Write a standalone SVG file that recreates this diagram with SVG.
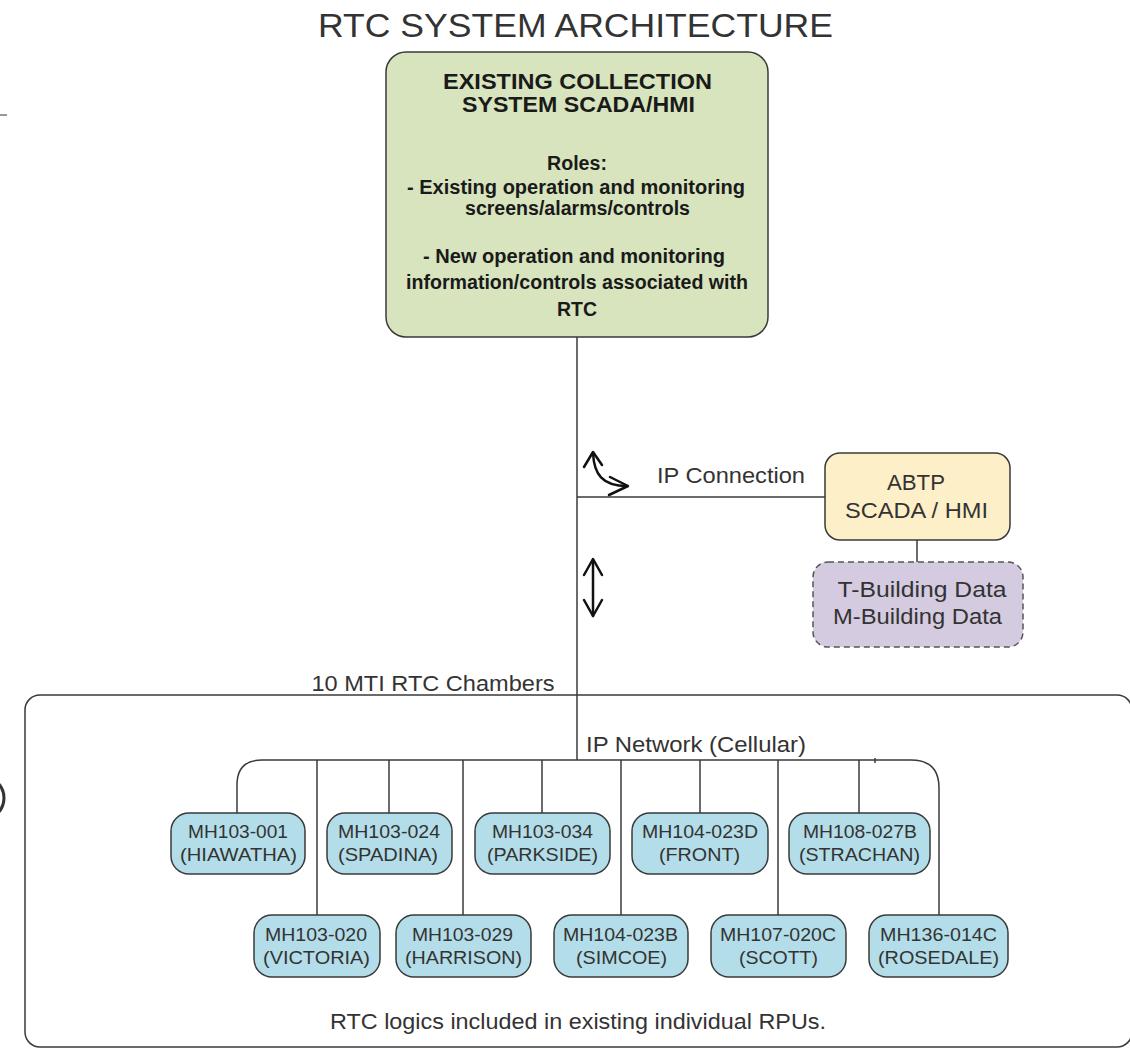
<svg xmlns="http://www.w3.org/2000/svg" width="1130" height="1050" viewBox="0 0 1130 1050">
  <style>
    text { font-family: "Liberation Sans", Arial, sans-serif; fill: #333; }
    .title { font-size: 34px; }
    .lbl { font-size: 22px; }
    .hd { font-size: 22px; font-weight: bold; fill: #1a1a1a; }
    .bd { font-size: 20px; font-weight: bold; fill: #1a1a1a; }
    .mh { font-size: 19px; }
    .wire { fill: none; stroke: #3a3a3a; stroke-width: 1.5; }
    .arr { fill: none; stroke: #111; stroke-width: 2.5; stroke-linecap: round; stroke-linejoin: round; }
    .rtu rect { fill: #b3dde8; stroke: #3a3a3a; stroke-width: 1.5; }
  </style>

  <!-- page title -->
  <text class="title" x="575.5" y="37" text-anchor="middle" textLength="515" lengthAdjust="spacingAndGlyphs">RTC SYSTEM ARCHITECTURE</text>

  <!-- stray edge marks -->
  <line x1="0" y1="115" x2="7" y2="115" stroke="#777" stroke-width="1.5"/>
  <ellipse cx="-14" cy="798" rx="18" ry="20" fill="none" stroke="#333" stroke-width="3"/>

  <!-- chamber container -->
  <g id="chambers">
    <rect x="25" y="695" width="1107" height="352" rx="15" fill="#fff" stroke="#3a3a3a" stroke-width="1.5"/>
    <text class="lbl" x="433" y="691" text-anchor="middle" textLength="243" lengthAdjust="spacingAndGlyphs">10 MTI RTC Chambers</text>
    <text class="lbl" x="578" y="1029" text-anchor="middle" textLength="496" lengthAdjust="spacingAndGlyphs">RTC logics included in existing individual RPUs.</text>
  </g>

  <!-- connectors -->
  <g id="connectors">
    <line class="wire" x1="577" y1="337" x2="577" y2="760"/>
    <line class="wire" x1="577" y1="497" x2="825" y2="497"/>
    <line class="wire" x1="917" y1="540" x2="917" y2="562"/>
    <path class="wire" d="M237,813 L237,785 Q237,760 262,760 L911,760 Q939,760 939,788 L939,915"/>
    <line class="wire" x1="317" y1="760" x2="317" y2="915"/>
    <line class="wire" x1="389" y1="760" x2="389" y2="813"/>
    <line class="wire" x1="463" y1="760" x2="463" y2="915"/>
    <line class="wire" x1="542" y1="760" x2="542" y2="813"/>
    <line class="wire" x1="621" y1="760" x2="621" y2="915"/>
    <line class="wire" x1="700" y1="760" x2="700" y2="813"/>
    <line class="wire" x1="778" y1="760" x2="778" y2="915"/>
    <line class="wire" x1="859" y1="760" x2="859" y2="813"/>
    <line class="wire" x1="875" y1="758" x2="875" y2="763"/>
    <!-- bent two-way arrow -->
    <path class="arr" d="M584,467 L593,452 L602,465"/>
    <path class="arr" d="M593,453 C594,474 602,486 627,486"/>
    <path class="arr" d="M610,477 L628,486 L609,495"/>
    <!-- vertical two-way arrow -->
    <path class="arr" d="M593,560 L593,616"/>
    <path class="arr" d="M584,575 L593,559 L602,575"/>
    <path class="arr" d="M584,600 L593,616 L602,600"/>
    <text class="lbl" x="731" y="483" text-anchor="middle" textLength="148" lengthAdjust="spacingAndGlyphs">IP Connection</text>
    <text class="lbl" x="696" y="752" text-anchor="middle" textLength="220" lengthAdjust="spacingAndGlyphs">IP Network (Cellular)</text>
  </g>

  <!-- collection system SCADA -->
  <g id="scada-main">
    <rect x="386" y="52" width="382" height="285" rx="20" fill="#d7e4bd" stroke="#3a3a3a" stroke-width="1.5"/>
    <text class="hd" x="577.5" y="89" text-anchor="middle" textLength="269" lengthAdjust="spacingAndGlyphs">EXISTING COLLECTION</text>
    <text class="hd" x="578.5" y="112" text-anchor="middle" textLength="233" lengthAdjust="spacingAndGlyphs">SYSTEM SCADA/HMI</text>
    <text class="bd" x="577" y="170" text-anchor="middle" textLength="60" lengthAdjust="spacingAndGlyphs">Roles:</text>
    <text class="bd" x="576" y="194" text-anchor="middle" textLength="338" lengthAdjust="spacingAndGlyphs">- Existing operation and monitoring</text>
    <text class="bd" x="577.5" y="215" text-anchor="middle" textLength="225" lengthAdjust="spacingAndGlyphs">screens/alarms/controls</text>
    <text class="bd" x="574" y="263" text-anchor="middle" textLength="302" lengthAdjust="spacingAndGlyphs">- New operation and monitoring</text>
    <text class="bd" x="577" y="289" text-anchor="middle" textLength="342" lengthAdjust="spacingAndGlyphs">information/controls associated with</text>
    <text class="bd" x="577" y="316" text-anchor="middle" textLength="40" lengthAdjust="spacingAndGlyphs">RTC</text>
  </g>

  <!-- ABTP SCADA -->
  <g id="abtp">
    <rect x="825" y="453" width="185" height="87" rx="15" fill="#fdefc8" stroke="#3a3a3a" stroke-width="1.5"/>
    <text class="lbl" x="916" y="490" text-anchor="middle" textLength="58" lengthAdjust="spacingAndGlyphs">ABTP</text>
    <text class="lbl" x="916.5" y="518" text-anchor="middle" textLength="143" lengthAdjust="spacingAndGlyphs">SCADA / HMI</text>
  </g>

  <!-- building data -->
  <g id="building-data">
    <rect x="813" y="562" width="210" height="85" rx="15" fill="#d5cbe0" stroke="#555" stroke-width="1.5" stroke-dasharray="6 4"/>
    <text class="lbl" x="922" y="597" text-anchor="middle" textLength="169" lengthAdjust="spacingAndGlyphs">T-Building Data</text>
    <text class="lbl" x="917.5" y="624" text-anchor="middle" textLength="169" lengthAdjust="spacingAndGlyphs">M-Building Data</text>
  </g>

  <!-- chamber RPUs, upper row -->
  <g id="mh103-001" class="rtu">
    <rect x="171" y="813" width="134" height="61" rx="18"/>
    <text class="mh" x="238" y="838" text-anchor="middle" textLength="100" lengthAdjust="spacingAndGlyphs">MH103-001</text>
    <text class="mh" x="238.5" y="861" text-anchor="middle" textLength="117" lengthAdjust="spacingAndGlyphs">(HIAWATHA)</text>
  </g>
  <g id="mh103-024" class="rtu">
    <rect x="327" y="813" width="125" height="61" rx="18"/>
    <text class="mh" x="389" y="838" text-anchor="middle" textLength="102" lengthAdjust="spacingAndGlyphs">MH103-024</text>
    <text class="mh" x="388" y="861" text-anchor="middle" textLength="100" lengthAdjust="spacingAndGlyphs">(SPADINA)</text>
  </g>
  <g id="mh103-034" class="rtu">
    <rect x="475" y="813" width="135" height="61" rx="18"/>
    <text class="mh" x="542.5" y="838" text-anchor="middle" textLength="101" lengthAdjust="spacingAndGlyphs">MH103-034</text>
    <text class="mh" x="542.5" y="861" text-anchor="middle" textLength="111" lengthAdjust="spacingAndGlyphs">(PARKSIDE)</text>
  </g>
  <g id="mh104-023d" class="rtu">
    <rect x="632" y="813" width="136" height="61" rx="18"/>
    <text class="mh" x="700" y="838" text-anchor="middle" textLength="116" lengthAdjust="spacingAndGlyphs">MH104-023D</text>
    <text class="mh" x="699.5" y="861" text-anchor="middle" textLength="81" lengthAdjust="spacingAndGlyphs">(FRONT)</text>
  </g>
  <g id="mh108-027b" class="rtu">
    <rect x="789" y="813" width="141" height="61" rx="18"/>
    <text class="mh" x="860" y="838" text-anchor="middle" textLength="114" lengthAdjust="spacingAndGlyphs">MH108-027B</text>
    <text class="mh" x="859.5" y="861" text-anchor="middle" textLength="121" lengthAdjust="spacingAndGlyphs">(STRACHAN)</text>
  </g>

  <!-- chamber RPUs, lower row -->
  <g id="mh103-020" class="rtu">
    <rect x="254" y="915" width="126" height="62" rx="18"/>
    <text class="mh" x="316" y="941" text-anchor="middle" textLength="102" lengthAdjust="spacingAndGlyphs">MH103-020</text>
    <text class="mh" x="316.5" y="964" text-anchor="middle" textLength="107" lengthAdjust="spacingAndGlyphs">(VICTORIA)</text>
  </g>
  <g id="mh103-029" class="rtu">
    <rect x="396" y="915" width="135" height="62" rx="18"/>
    <text class="mh" x="462.5" y="941" text-anchor="middle" textLength="101" lengthAdjust="spacingAndGlyphs">MH103-029</text>
    <text class="mh" x="463.5" y="964" text-anchor="middle" textLength="117" lengthAdjust="spacingAndGlyphs">(HARRISON)</text>
  </g>
  <g id="mh104-023b" class="rtu">
    <rect x="554" y="915" width="134" height="62" rx="18"/>
    <text class="mh" x="620.5" y="941" text-anchor="middle" textLength="115" lengthAdjust="spacingAndGlyphs">MH104-023B</text>
    <text class="mh" x="621.5" y="964" text-anchor="middle" textLength="91" lengthAdjust="spacingAndGlyphs">(SIMCOE)</text>
  </g>
  <g id="mh107-020c" class="rtu">
    <rect x="711" y="915" width="135" height="62" rx="18"/>
    <text class="mh" x="778" y="941" text-anchor="middle" textLength="116" lengthAdjust="spacingAndGlyphs">MH107-020C</text>
    <text class="mh" x="778.5" y="964" text-anchor="middle" textLength="79" lengthAdjust="spacingAndGlyphs">(SCOTT)</text>
  </g>
  <g id="mh136-014c" class="rtu">
    <rect x="869" y="915" width="139" height="62" rx="18"/>
    <text class="mh" x="938.5" y="941" text-anchor="middle" textLength="117" lengthAdjust="spacingAndGlyphs">MH136-014C</text>
    <text class="mh" x="938.5" y="964" text-anchor="middle" textLength="121" lengthAdjust="spacingAndGlyphs">(ROSEDALE)</text>
  </g>
</svg>
